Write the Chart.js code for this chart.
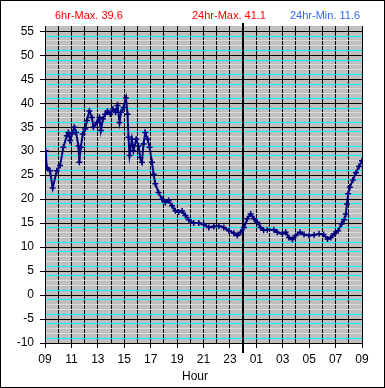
<!DOCTYPE html>
<html>
<head>
<meta charset="utf-8">
<script src="https://cdn.jsdelivr.net/npm/chart.js@4"></script>
<style>
  html, body { margin: 0; padding: 0; background: #fff; }
  canvas { display: block; }
</style>
</head>
<body>
<canvas id="chart" width="385" height="388"></canvas>
<script>
// hours since 09:00, temperature readings
const hours = [
  0.05, 0.13, 0.38, 0.58, 0.89, 1.14, 1.39, 1.65, 1.77, 1.90,
  2.03, 2.22, 2.35, 2.53, 2.60, 2.71, 2.86, 3.04, 3.17, 3.36,
  3.55, 3.67, 3.93, 4.12, 4.23, 4.38, 4.56, 4.73, 4.94, 5.14,
  5.34, 5.49, 5.64, 5.75, 5.95, 6.13, 6.25, 6.32, 6.40, 6.58,
  6.70, 6.91, 7.08, 7.21, 7.34, 7.46, 7.59, 7.77, 7.92, 8.10,
  8.22, 8.35, 8.60, 8.86, 9.11, 9.36, 9.62, 9.87, 10.12, 10.38,
  10.63, 10.88, 11.26, 11.64, 12.02, 12.40, 12.78, 13.16, 13.54, 13.92,
  14.30, 14.56, 14.81, 15.06, 15.32, 15.57, 15.82, 16.07, 16.32, 16.55,
  16.83, 17.33, 17.59, 17.97, 18.22, 18.47, 18.73, 18.98, 19.31, 19.61,
  19.99, 20.37, 20.75, 21.09, 21.39, 21.64, 21.89, 22.19, 22.45, 22.65,
  22.78, 22.86, 22.95, 23.08, 23.31, 23.54, 23.77, 24.0
];
const temps = [
  30.1, 26.6, 25.9, 22.3, 25.9, 27.0, 30.8, 33.2, 33.9, 32.2,
  33.6, 35.0, 33.9, 31.1, 27.7, 30.8, 33.6, 34.6, 36.4, 38.4,
  37.0, 35.0, 36.0, 37.0, 34.3, 36.7, 37.7, 38.4, 37.7, 38.8,
  38.1, 39.5, 36.0, 38.1, 39.1, 41.1, 37.7, 32.9, 29.1, 32.5,
  30.1, 32.5, 31.1, 28.7, 27.7, 31.5, 33.9, 32.5, 30.8, 27.7,
  25.2, 23.2, 21.4, 20.0, 19.3, 19.7, 18.6, 17.6, 17.3, 17.5,
  16.6, 15.7, 15.0, 15.0, 14.7, 14.1, 14.3, 14.4, 14.1, 13.4,
  12.9, 12.4, 13.1, 14.1, 15.9, 16.9, 15.9, 15.2, 14.1, 13.5,
  13.6, 13.6, 13.1, 12.8, 13.1, 12.0, 11.6, 12.4, 13.1, 12.6,
  12.4, 12.5, 12.8, 12.6, 11.7, 12.0, 12.8, 13.4, 14.8, 15.7,
  16.9, 19.0, 21.1, 22.5, 24.0, 25.5, 26.8, 28.0
];
const hourLabels = ['09','10','11','12','13','14','15','16','17','18','19','20','21',
  '22','23','00','01','02','03','04','05','06','07','08','09'];
const headerTexts = ['6hr-Max. 39.6', '24hr-Max. 41.1', '24hr-Min. 11.6'];
const headerColors = ['#ff0000', '#ff0000', '#3366ff'];
const headerX = [55, 192, 290];
const yMin = -10, yMax = 55, yTop = 56.1;
const midnight = 15;

const FONT = '"Liberation Sans", Arial, sans-serif';

function yGridColor(c) {
  const v = c.tick ? Math.round(c.tick.value) : 0;
  const m = ((v % 5) + 5) % 5;
  if (m === 0) return '#000000';
  if (m === 1 || m === 4) return '#00ffff';
  return '#dcdcdc';
}

const decor = {
  id: 'decor',
  beforeDraw(chart) {
    const { ctx, chartArea: a } = chart;
    ctx.save();
    ctx.fillStyle = '#ffffff';
    ctx.fillRect(0, 0, chart.width, chart.height);
    ctx.fillStyle = '#c0c0c0';
    ctx.fillRect(a.left, a.top, a.right - a.left, a.bottom - a.top);
    ctx.restore();
  },
  beforeDatasetsDraw(chart) {
    const { ctx, chartArea: a } = chart;
    const x = Math.round(chart.scales.x.getPixelForValue(midnight));
    ctx.save();
    ctx.fillStyle = '#000000';
    ctx.fillRect(x - 1, a.top - 3, 2, a.bottom - a.top + 13);
    ctx.restore();
  },
  afterDraw(chart) {
    const { ctx } = chart;
    ctx.save();
    ctx.font = '11px ' + FONT;
    ctx.textBaseline = 'alphabetic';
    ctx.textAlign = 'left';
    headerTexts.forEach((t, i) => {
      ctx.fillStyle = headerColors[i];
      ctx.fillText(t, headerX[i], 19);
    });
    ctx.font = '12px ' + FONT;
    ctx.fillStyle = '#000000';
    ctx.textAlign = 'center';
    ctx.fillText('Hour', 195, 380);
    ctx.strokeStyle = '#000000';
    ctx.lineWidth = 1;
    ctx.strokeRect(0.5, 0.5, chart.width - 1, chart.height - 1);
    ctx.restore();
  }
};

new Chart(document.getElementById('chart').getContext('2d'), {
  type: 'line',
  data: {
    datasets: [{
      data: hours.map((h, i) => ({ x: h, y: temps[i] })),
      borderColor: '#000080',
      borderWidth: 2,
      pointStyle: 'cross',
      pointRadius: 3,
      pointBorderWidth: 1.5,
      pointBorderColor: '#000080',
      pointBackgroundColor: '#000080',
      tension: 0,
      fill: false
    }]
  },
  options: {
    responsive: false,
    animation: false,
    events: [],
    layout: { padding: { top: 26, right: 23, left: 0, bottom: 0 } },
    plugins: { legend: { display: false }, tooltip: { enabled: false } },
    scales: {
      x: {
        type: 'linear',
        min: 0,
        max: 24,
        afterBuildTicks: s => { s.ticks = hourLabels.map((_, i) => ({ value: i })); },
        afterFit: s => { s.height = 45; },
        ticks: {
          autoSkip: false,
          maxRotation: 0,
          minRotation: 0,
          padding: 4,
          color: '#000000',
          font: { family: FONT, size: 12 },
          callback: (v, i) => (i % 2 === 0 ? hourLabels[i] : '')
        },
        grid: {
          color: '#000000',
          lineWidth: 1,
          tickLength: 5,
          tickColor: c => (c.index % 2 === 0 ? '#000000' : 'rgba(0,0,0,0)')
        },
        border: { display: true, color: '#000000', width: 1 }
      },
      y: {
        type: 'linear',
        min: yMin,
        max: yTop,
        afterBuildTicks: s => {
          const t = [];
          for (let v = yMin; v <= yMax; v++) t.push({ value: v });
          s.ticks = t;
        },
        afterFit: s => { s.width = 45; },
        ticks: {
          autoSkip: false,
          padding: 6,
          color: '#000000',
          font: { family: FONT, size: 12 },
          callback: v => (Math.round(v) % 5 === 0 ? String(Math.round(v)) : '')
        },
        grid: {
          color: yGridColor,
          lineWidth: 1,
          tickLength: 5,
          tickColor: c => (c.tick && Math.round(c.tick.value) % 5 === 0 ? '#000000' : 'rgba(0,0,0,0)')
        },
        border: { display: true, color: '#000000', width: 1 }
      }
    }
  },
  plugins: [decor]
});
</script>
</body>
</html>
